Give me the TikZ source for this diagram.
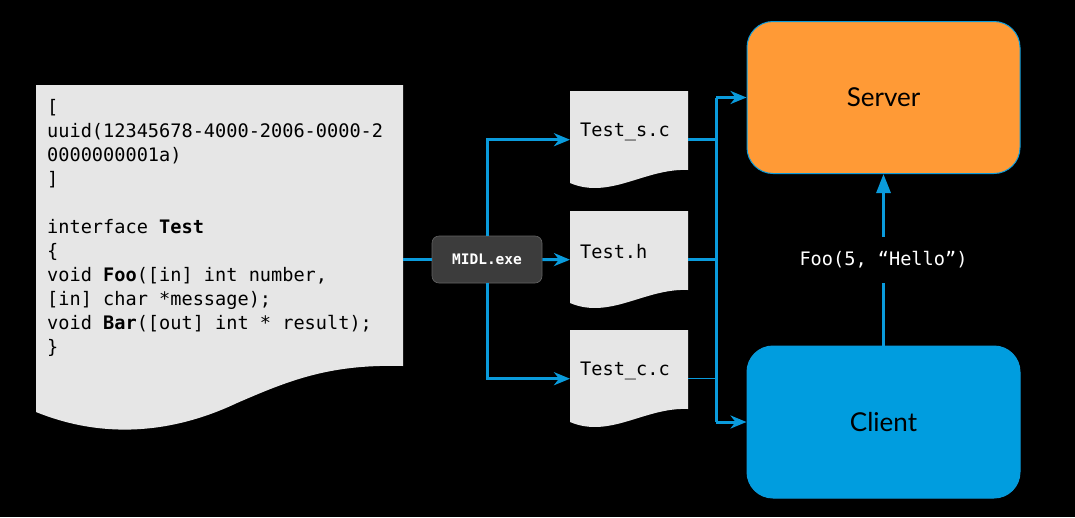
\documentclass[tikz,border=0pt]{standalone}
\usepackage{fontspec}
\setmonofont{DejaVu Sans Mono}
\setsansfont{Lato}
\usetikzlibrary{arrows.meta,calc}
\definecolor{paper}{HTML}{E6E6E6}
\definecolor{flowblue}{HTML}{0A9BDC}
\definecolor{srvorange}{HTML}{FF9A36}
\definecolor{cliblue}{HTML}{009DDF}
\definecolor{midlgray}{HTML}{3C3C3C}
\tikzset{
  code/.style={font=\ttfamily\fontsize{18.6}{24}\selectfont, text=black, inner sep=0pt},
  flow/.style={draw=flowblue, line width=3pt},
  thinflow/.style={draw=flowblue, line width=1pt},
  tip/.style={-{Stealth[length=16pt,width=13pt,inset=5pt]}},
  tri/.style={-{Triangle[length=19pt,width=14pt]}},
  holder/.style={inner sep=0pt, minimum width=118, minimum height=97},
  role/.style={rounded corners=26pt, minimum width=273, minimum height=152, draw=flowblue, line width=1pt,
    font=\sffamily\fontsize{26}{30}\selectfont, text=black},
  midlbox/.style={fill=midlgray, draw=midlgray!80!white, line width=0.6pt, rounded corners=7pt,
    minimum width=110, minimum height=47, text=white, font=\ttfamily\bfseries\fontsize{14.5}{16}\selectfont}
}
\newcommand\filedoc[4]{%
  \begin{scope}[shift={(#2,#3)}]
    \fill[paper] (0,0) -- (118,0) -- (118,79) .. controls (75,77) and (40,109) .. (0,92) -- cycle;
    \node[holder, anchor=north west] (#1) at (0,0) {};
    \node[code, anchor=west] at (10,41) {#4};
  \end{scope}}
\begin{document}
\begin{tikzpicture}[x=1pt,y=-1pt]
\fill[black] (0,0) rectangle (1075,517);
\useasboundingbox (0,0) rectangle (1075,517);
% IDL document
\fill[paper] (36,85) -- (403,85) -- (403,366)
  .. controls (330,364) and (290,380) .. (237,403)
  .. controls (180,430) and (110,442) .. (36,412) -- cycle;
\node[inner sep=0pt, minimum width=367, minimum height=345] (doc) at (219.5,257.5) {};
\node[code, anchor=north west, align=left] (idl) at (47,98) {\rule{0pt}{15pt}{[}\\
uuid(12345678-4000-2006-0000-2\\
0000000001a)\\
{]}\\
\mbox{}\\
interface \textbf{Test}\\
\{\\
void \textbf{Foo}({[}in{]} int number,\\
{[}in{]} char *message);\\
void \textbf{Bar}({[}out{]} int * result);\\
\}};
% generated files
\filedoc{ts}{570}{91}{Test\_s.c}
\filedoc{th}{570}{211}{Test.h}
\filedoc{tc}{570}{330}{Test\_c.c}
% MIDL compiler
\node[midlbox] (midl) at (487,259.5) {MIDL.exe};
% server and client
\node[role, fill=srvorange] (server) at (883.5,97.5) {Server};
\node[role, fill=cliblue] (client) at (883.5,422) {Client};
% bus coordinates
\coordinate (b1) at (716,97.5);
\coordinate (b2) at (716,422);
% connectors
\draw[flow] (midl.west -| doc.east) -- (midl.west);
\draw[flow, tip] (midl.north) |- (ts.west);
\draw[flow, tip] (midl.east) -- (th.west);
\draw[flow, tip] (midl.south) |- (tc.west);
\draw[flow] (ts.east) -- (ts.east -| b1);
\draw[flow] (th.east) -- (th.east -| b1);
\draw[thinflow] (tc.east) -- (tc.east -| b1);
\draw[flow] (b1) -- (b2);
\draw[flow, tip] (b1) -- (server.west);
\draw[flow, tip] (b2) -- (client.west);
\draw[flow, tri] (client.north) -- node[fill=black, text=white, inner xsep=4pt, minimum height=46,
  font=\ttfamily\fontsize{18.6}{24}\selectfont] (call) {Foo(5, “Hello”)} (server.south);
\end{tikzpicture}
\end{document}
